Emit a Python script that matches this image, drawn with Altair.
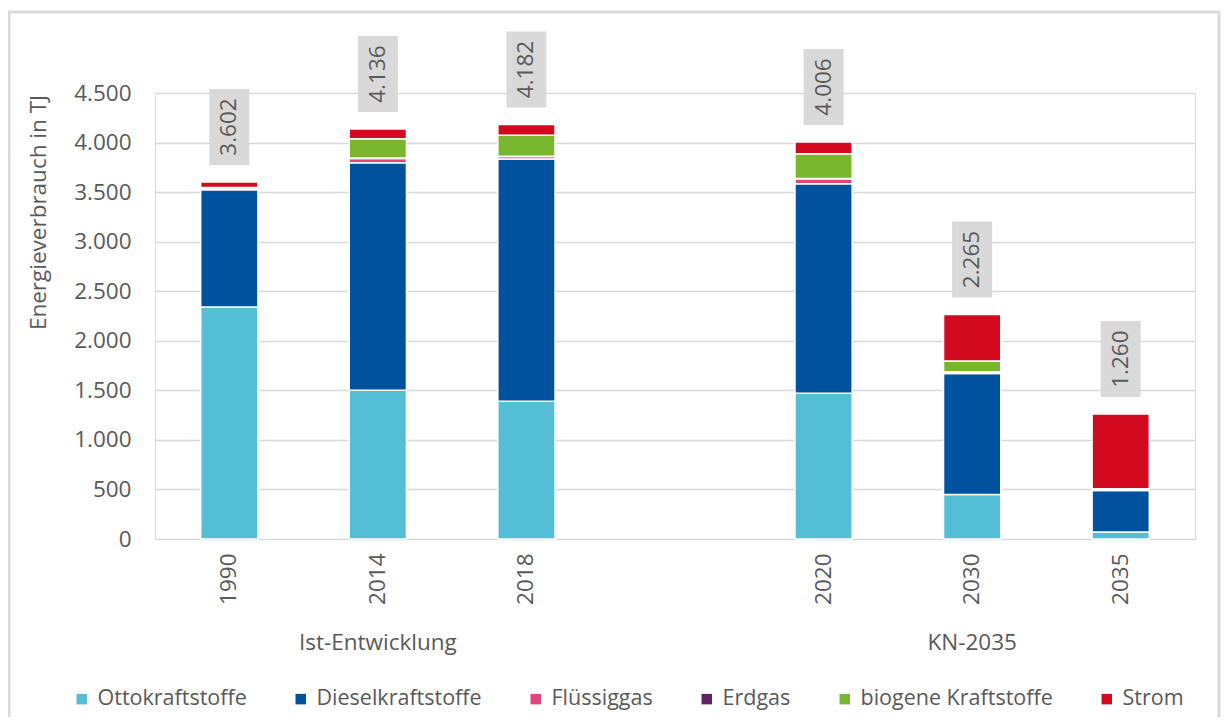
import altair as alt
import pandas as pd

categories = ["1990", "2014", "2018", "2020", "2030", "2035"]
x_domain = ["1990", "2014", "2018", " ", "2020", "2030", "2035"]
series = ["Ottokraftstoffe", "Dieselkraftstoffe", "Flüssiggas", "Erdgas",
          "biogene Kraftstoffe", "Strom"]
colors = ["#54BED7", "#00519E", "#E0457B", "#62245F", "#78B72D", "#D2091F"]

otto = [2340, 1500, 1390, 1470, 450, 70]
diesel = [1183, 2295, 2445, 2115, 1220, 420]
fluessiggas = [15, 45, 25, 50, 15, 5]
erdgas = [2, 3, 3, 3, 2, 1]
biogen = [7, 195, 210, 250, 110, 10]
strom = [55, 98, 109, 118, 468, 754]
totals = [3602, 4136, 4182, 4006, 2265, 1260]

groups = ["Ist-Entwicklung", "KN-2035"]
group_center = ["2014", "2030"]

values = [otto, diesel, fluessiggas, erdgas, biogen, strom]
rows = []
for si, (s, vals) in enumerate(zip(series, values)):
    for c, v in zip(categories, vals):
        rows.append({"Jahr": c, "Energietraeger": s, "Wert": v, "ord": si})
df = pd.DataFrame(rows)

tot_df = pd.DataFrame({
    "Jahr": categories,
    "total": totals,
    "label": [f"{t:,}".replace(",", ".") for t in totals],
})
grp_df = pd.DataFrame({"Jahr": group_center, "group": groups})

FONT = "Open Sans"
GREY = "#595959"
FS = 22.5

x_enc = alt.X("Jahr:N", scale=alt.Scale(domain=x_domain, paddingInner=0.615, paddingOuter=0.3075),
              axis=alt.Axis(title=None, labelAngle=270, labelPadding=14, domain=False, ticks=False,
                            labelFontSize=FS, labelColor=GREY, labelFont=FONT, grid=False))
y_scale = alt.Scale(domain=[0, 4500], nice=False)

bars = alt.Chart(df).mark_bar(stroke="white", strokeWidth=1.5).encode(
    x=x_enc,
    y=alt.Y("sum(Wert):Q", scale=y_scale, stack="zero",
            axis=alt.Axis(values=list(range(0, 4501, 500)),
                          labelExpr="replace(format(datum.value, ','), ',', '.')",
                          title="Energieverbrauch in TJ", titleFontSize=FS, titleFont=FONT,
                          titleFontWeight="normal", titleColor=GREY, titleAngle=270,
                          titleX=-117, titleY=119, titleAlign="center", titleBaseline="middle",
                          labelFontSize=FS, labelFont=FONT, labelColor=GREY, labelPadding=24,
                          domain=False, ticks=False, grid=True, gridColor="#D9D9D9", gridWidth=1.5)),
    color=alt.Color("Energietraeger:N", scale=alt.Scale(domain=series, range=colors),
                    sort=series,
                    legend=alt.Legend(title=None, orient="none", legendX=-84, legendY=595,
                                      direction="horizontal", columns=6, columnPadding=43,
                                      symbolType="square", symbolSize=110, symbolStrokeWidth=0,
                                      labelFontSize=21.5, labelFont=FONT, labelColor=GREY,
                                      labelOffset=5, labelLimit=400)),
    order=alt.Order("ord:Q", sort="ascending"),
)

boxes = alt.Chart(tot_df).mark_bar(color="#D9D9D9", size=40, yOffset=-93, y2Offset=-17).encode(
    x=alt.X("Jahr:N", scale=alt.Scale(domain=x_domain)),
    y=alt.Y("total:Q", scale=y_scale),
    y2=alt.Y2("total:Q"),
)

labels = alt.Chart(tot_df).mark_text(angle=270, yOffset=-55, align="center", baseline="middle",
                                     fontSize=FS, font=FONT, color=GREY).encode(
    x=alt.X("Jahr:N", scale=alt.Scale(domain=x_domain)),
    y=alt.Y("total:Q", scale=y_scale),
    text="label:N",
)

group_text = alt.Chart(grp_df).mark_text(fontSize=FS, font=FONT, color=GREY,
                                         align="center", baseline="middle").encode(
    x=alt.X("Jahr:N", scale=alt.Scale(domain=x_domain)),
    y=alt.value(550),
    text="group:N",
)

frame = alt.Chart(grp_df.head(1)).mark_rect(fill=None, stroke="#DADADA", strokeWidth=3).encode(
    x=alt.value(-146), x2=alt.value(1064), y=alt.value(-81), y2=alt.value(640),
)

chart = alt.layer(frame, bars, boxes, labels, group_text).properties(
    width=1040, height=446,
    autosize=alt.AutoSizeParams(type="none"),
    padding={"left": 147, "top": 85, "right": 27, "bottom": 178},
).configure_view(stroke=None).configure(font=FONT)

chart.save("out.html", embed_options={"renderer": "svg", "actions": False})
